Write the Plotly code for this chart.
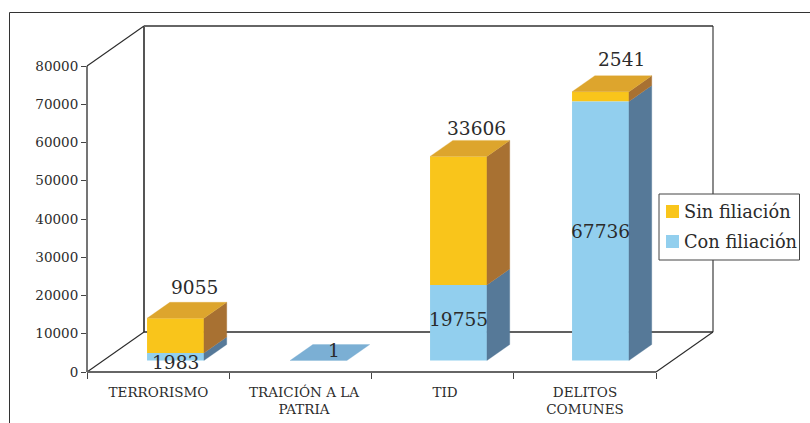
import plotly.graph_objects as go

categories = ["TERRORISMO", "TRAICIÓN A LA<br>PATRIA", "TID", "DELITOS<br>COMUNES"]
con_filiacion = [1983, 1, 19755, 67736]
sin_filiacion = [9055, 0, 33606, 2541]
y_ticks = [0, 10000, 20000, 30000, 40000, 50000, 60000, 70000, 80000]
bar_center_px = [175.5, 318.5, 458.5, 600.5]
label_center_px = [158.5, 304, 445, 585]

W, H = 810, 423
PX_L, PX_R, PX_T, PX_B = 87, 713, 26, 372
PX_PER_CAT = (656 - 87) / 4
PX_PER_UNIT = (372 - 66) / 80000
INK = "#2b2b2b"
FONT = "DejaVu Serif"

YELLOW, YELLOW_TOP, YELLOW_SIDE = "#F9C51B", "#DDA52D", "#A87132"
BLUE, BLUE_TOP, BLUE_SIDE = "#92CFEE", "#7BAFD4", "#567998"

depth_x = 57 / PX_PER_CAT
depth_y = 40 / PX_PER_UNIT
bar_w = 0.40
front_y = 11.5 / PX_PER_UNIT
bar_dx = 0.4 * depth_x
bar_dy = 0.4 * depth_y
to_u = lambda p: (p - PX_L) / PX_PER_CAT
centers = [to_u(p) for p in bar_center_px]
x_max = (PX_R - PX_L) / PX_PER_CAT
y_max = (PX_B - PX_T) / PX_PER_UNIT

fig = go.Figure()


def line(xs, ys, color=INK, width=1.3):
    # walls sit below every trace; paper references keep them from being clipped at the plot edge
    fig.add_shape(type="line", xref="paper", yref="paper", layer="below",
                  x0=xs[0] / x_max, x1=xs[1] / x_max, y0=ys[0] / y_max, y1=ys[1] / y_max,
                  line=dict(color=color, width=width))


def poly(xs, ys, color):
    fig.add_trace(go.Scatter(x=xs + xs[:1], y=ys + ys[:1], mode="lines", fill="toself",
                             fillcolor=color, line=dict(color=color, width=0.3),
                             showlegend=False, hoverinfo="skip", cliponaxis=False))


# walls and floor
line([0, 0], [0, 80000])
line([depth_x, depth_x], [depth_y, y_max], width=1.6)
line([0, depth_x], [80000, y_max], width=1.1)
line([depth_x, x_max], [y_max, y_max], color="#666666", width=1.8)
line([x_max, x_max], [depth_y, y_max], width=1.1)
line([depth_x, x_max], [depth_y, depth_y], width=1.6)
line([0, depth_x], [0, depth_y], width=1.1)
line([4, x_max], [0, depth_y], width=1.1)
line([0, 4], [0, 0], color="#666666", width=1.8)

# depth faces
for i, c in enumerate(centers):
    l, r = c - bar_w / 2, c + bar_w / 2
    a, b = con_filiacion[i], sin_filiacion[i]
    y0 = front_y
    if a + b < 100:
        poly([l, r, r + bar_dx, l + bar_dx], [y0, y0, y0 + bar_dy, y0 + bar_dy], BLUE_TOP)
        continue
    poly([r, r + bar_dx, r + bar_dx, r], [y0, y0 + bar_dy, y0 + a + bar_dy, y0 + a], BLUE_SIDE)
    poly([r, r + bar_dx, r + bar_dx, r], [y0 + a, y0 + a + bar_dy, y0 + a + b + bar_dy, y0 + a + b], YELLOW_SIDE)
    poly([l, r, r + bar_dx, l + bar_dx], [y0 + a + b, y0 + a + b, y0 + a + b + bar_dy, y0 + a + b + bar_dy], YELLOW_TOP)

# front faces
bar_x = [centers[i] for i in (0, 2, 3)]
fig.add_trace(go.Bar(name="Sin filiación", x=bar_x, width=bar_w,
                     y=[sin_filiacion[i] for i in (0, 2, 3)],
                     base=[front_y + con_filiacion[i] for i in (0, 2, 3)],
                     marker=dict(color=YELLOW, line=dict(width=0)), hoverinfo="skip", showlegend=False))
fig.add_trace(go.Bar(name="Con filiación", x=bar_x, width=bar_w,
                     y=[con_filiacion[i] for i in (0, 2, 3)],
                     base=[front_y] * 3,
                     marker=dict(color=BLUE, line=dict(width=0)), hoverinfo="skip", showlegend=False))


# value labels
def label(text, x, y, xs=0, ys=0):
    fig.add_annotation(text=str(text), x=x, y=y, xref="x", yref="y", showarrow=False,
                       xshift=xs, yshift=ys, font=dict(family=FONT, size=18.6, color=INK))


for i in (0, 2, 3):
    top = front_y + con_filiacion[i] + sin_filiacion[i] + bar_dy
    back_cx = centers[i] + bar_dx
    shift = {0: (-4, 15), 2: (-5, 12), 3: (-2, 16)}[i]
    label(sin_filiacion[i], back_cx, top, shift[0], shift[1])
label(con_filiacion[0], centers[0], front_y, 0, -2)
label(con_filiacion[1], centers[1] + bar_dx / 2 + 0.01, front_y + bar_dy / 2, 3, 2)
label(con_filiacion[2], centers[2], front_y + con_filiacion[2], 0, -35)
label(con_filiacion[3], centers[3], front_y + con_filiacion[3], 0, -130)

# outer frame and legend (paper coordinates derived from pixels)
pw, ph = PX_R - PX_L, PX_B - PX_T
px = lambda v: (v - PX_L) / pw
py = lambda v: (PX_B - v) / ph
frame = dict(type="line", xref="paper", yref="paper", line=dict(color="#333333", width=1))
fig.add_shape(x0=px(9.5), x1=px(9.5), y0=py(12.5), y1=py(423), **frame)
fig.add_shape(x0=px(9.5), x1=px(810), y0=py(12.5), y1=py(12.5), **frame)

fig.add_shape(type="rect", xref="paper", yref="paper", x0=px(659), x1=px(799.5), y0=py(194), y1=py(260),
              fillcolor="white", line=dict(color="#444444", width=1), layer="above")
legend_names = ["Sin filiación", "Con filiación"]
legend_colors = [YELLOW, BLUE]
legend_rows = [211.5, 241.5]
for name, color, row in zip(legend_names, legend_colors, legend_rows):
    fig.add_shape(type="rect", xref="paper", yref="paper", x0=px(666), x1=px(679),
                  y0=py(row - 6.5), y1=py(row + 6.5), fillcolor=color, line=dict(width=0), layer="above")
    fig.add_annotation(text=name, xref="paper", yref="paper", x=px(682), y=py(row - 0.5), xanchor="left",
                       yanchor="middle", showarrow=False, font=dict(family=FONT, size=17.8, color=INK))

fig.update_layout(
    width=W, height=H, barmode="overlay", paper_bgcolor="white", plot_bgcolor="rgba(0,0,0,0)",
    margin=dict(l=PX_L, r=W - PX_R, t=PX_T, b=H - PX_B, pad=0, autoexpand=False), showlegend=False,
    font=dict(family=FONT, color=INK),
    xaxis=dict(range=[0, x_max], tickvals=[to_u(p) for p in label_center_px], ticktext=categories,
               automargin=False, ticks="", showgrid=False, zeroline=False, showline=False,
               tickfont=dict(family=FONT, size=13.5, color=INK), ticklabelstandoff=10,
               minor=dict(tickvals=[0, 1, 2, 3, 4], ticks="outside", ticklen=6, tickwidth=1,
                          tickcolor="#444444", showgrid=False)),
    yaxis=dict(range=[0, y_max], tickvals=y_ticks, ticktext=[str(v) for v in y_ticks], automargin=False,
               ticks="outside", ticklen=5, tickwidth=1,
               tickcolor="#444444", showgrid=False, zeroline=False, showline=False,
               tickfont=dict(family=FONT, size=13.5, color=INK)),
)

fig.write_html("out.html", config=dict(displayModeBar=False),
               post_script="document.body.style.margin='0';")
